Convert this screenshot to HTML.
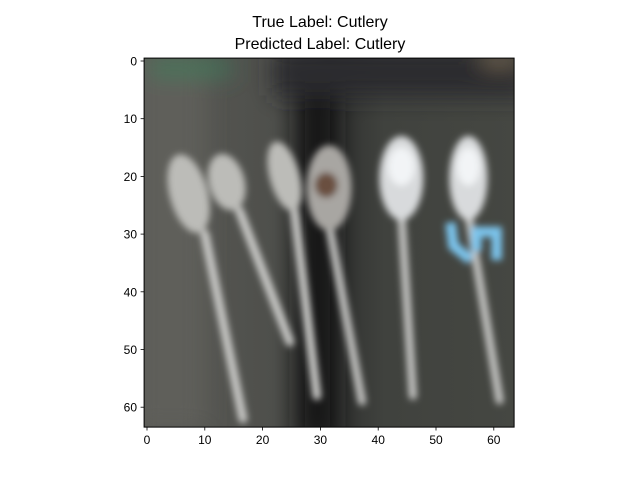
<!DOCTYPE html>
<html><head><meta charset="utf-8"><style>
body{margin:0;background:#fff;width:640px;height:480px;overflow:hidden}
svg{font-family:"Liberation Sans",sans-serif}
</style></head><body>
<svg width="640" height="480" viewBox="0 0 640 480">
<defs>
<filter id="bl" x="-20%" y="-20%" width="140%" height="140%"><feGaussianBlur stdDeviation="0.6"/></filter>
<filter id="bl2" x="-20%" y="-20%" width="140%" height="140%"><feGaussianBlur stdDeviation="2"/></filter>
<linearGradient id="bgg" x1="0" x2="1" y1="0" y2="0">
<stop offset="0" stop-color="#5a5a56"/><stop offset="0.35" stop-color="#4e4f4b"/><stop offset="0.5" stop-color="#2e2f2e"/><stop offset="0.65" stop-color="#40423e"/><stop offset="1" stop-color="#454742"/>
</linearGradient>
<clipPath id="clip"><rect x="-0.5" y="-0.5" width="64" height="64"/></clipPath>
</defs>
<text x="320" y="27" text-anchor="middle" font-size="16" fill="#000">True Label: Cutlery</text>
<text x="320" y="49" text-anchor="middle" font-size="16" fill="#000">Predicted Label: Cutlery</text>
<g id="img" clip-path="url(#clip)"></g>
<rect x="144.1" y="58.1" width="370" height="369" fill="none" stroke="#000" stroke-width="1"/>
<g id="ticks"></g>
</svg>
<script>
const xTicks=[0,10,20,30,40,50,60];
const yTicks=[0,10,20,30,40,50,60];
const forks=[[7.2,23,3.3,7,10,30,16.6,62],[13.8,21,3.1,5,16,26,24.7,48.7],[23.8,20,2.6,6.2,25.5,26,29.4,58]];
const spoons=[[31.5,22,3.9,7.4,37.2,59],[44,20.3,3.8,7.3,46,58],[55.6,20.3,3.3,7.3,61,58.8]];
const NS="http://www.w3.org/2000/svg";
const x0=147,sx=5.78,y0=61,sy=5.77;
const X=v=>x0+v*sx, Y=v=>y0+v*sy;
const img=document.getElementById('img');
img.setAttribute('transform',`translate(${x0},${y0}) scale(${sx},${sy})`);
function el(t,a,p){const e=document.createElementNS(NS,t);for(const k in a)e.setAttribute(k,a[k]);(p||img).appendChild(e);return e;}
let e;
e=el('rect',{x:-0.5,y:-0.5,width:64,height:64,fill:'url(#bgg)'});

const bgb=el('g',{filter:'url(#bl2)'});
el('rect',{x:26,y:4,width:7,height:62,fill:'#141416'},bgb);
el('rect',{x:22,y:-2,width:44,height:8,fill:'#2a2a2e'},bgb);
el('rect',{x:-2,y:-2,width:12,height:66,fill:'#5e5e5a'},bgb);
el('rect',{x:0.5,y:0,width:14,height:2.5,fill:'#3d7a5a'},bgb);
el('rect',{x:58,y:-1,width:6,height:1.5,fill:'#8a7a60'},bgb);
const g=el('g',{filter:'url(#bl)'});
forks.forEach((f,i)=>{
 e=el('line',{x1:f[4],y1:f[5],x2:f[6],y2:f[7],stroke:'#cacac8','stroke-width':1.5,'stroke-linecap':'round'},g);
 
 e=el('ellipse',{cx:f[0],cy:f[1],rx:f[2],ry:f[3],fill:'#bcbcb8',transform:`rotate(-15 ${f[0]} ${f[1]})`},g);
 
});
spoons.forEach((s,i)=>{
 e=el('line',{x1:s[0],y1:s[1]+s[3]-1,x2:s[4],y2:s[5],stroke:'#c4c4c2','stroke-width':1.4,'stroke-linecap':'round'},g);
 
 e=el('ellipse',{cx:s[0],cy:s[1],rx:s[2],ry:s[3],fill:i==0?'#a8a6a2':'#d8dadc'},g);
 
 if(i==0){el('ellipse',{cx:s[0]-0.5,cy:s[1]-0.5,rx:2,ry:2.2,fill:'#6a5040'},g);}
 else{el('ellipse',{cx:s[0],cy:s[1]-2,rx:s[2]*0.6,ry:s[3]*0.45,fill:'#f2f4f6'},g);}
});
e=el('polyline',{points:'52.5,28 53,32 56,34.5',fill:'none',stroke:'#7cc4ec','stroke-width':1.8},g);

el('polyline',{points:'57,33 57,29.6 60.5,29.6 60.5,34.5',fill:'none',stroke:'#7cc4ec','stroke-width':1.8},g);
const tk=document.getElementById('ticks');
xTicks.forEach(v=>{
 el('line',{x1:X(v),x2:X(v),y1:427,y2:430.5,stroke:'#000','stroke-width':0.8},tk);
 const t=el('text',{x:X(v),y:444,'text-anchor':'middle','font-size':12,fill:'#000'},tk);
 t.textContent=v;
 
 
});
yTicks.forEach(v=>{
 el('line',{x1:140.6,x2:144.1,y1:Y(v),y2:Y(v),stroke:'#000','stroke-width':0.8},tk);
 const t=el('text',{x:137,y:Y(v)+4.5,'text-anchor':'end','font-size':12,fill:'#000'},tk);
 t.textContent=v;
 
 
});
</script>
</body></html>
